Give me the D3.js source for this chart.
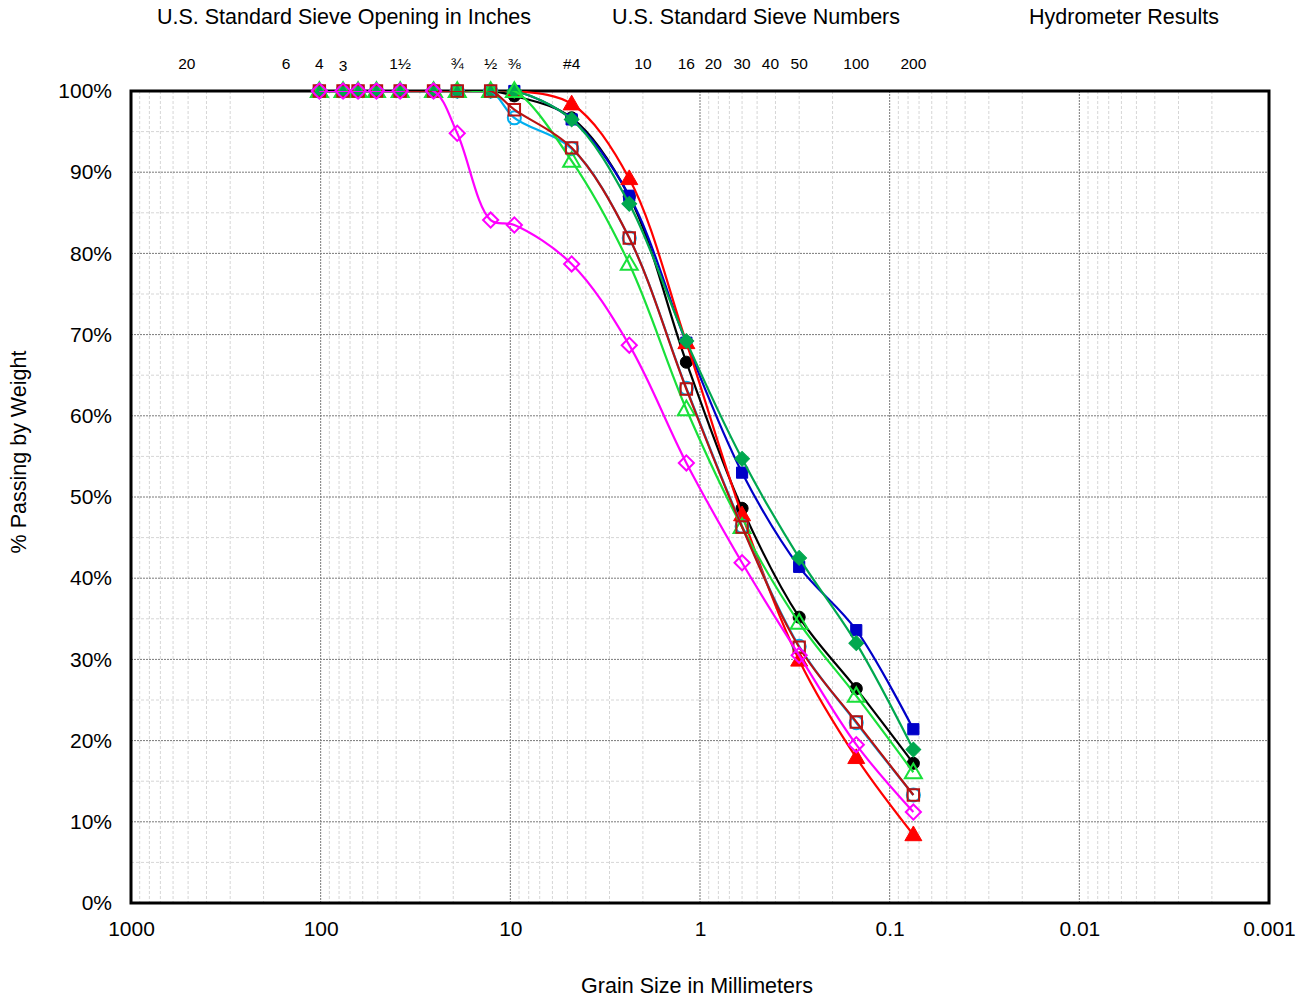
<!DOCTYPE html>
<html>
<head>
<meta charset="utf-8">
<script src="https://cdn.jsdelivr.net/npm/d3@7"></script>
<style>
  body { margin: 0; background: #fff; }
  svg { font-family: "Liberation Sans", Arial, sans-serif; }
</style>
</head>
<body>
<div class="d3Chart"></div>
<script>
//#region data

// sieve openings (mm) for the sample points: 4", 3", 2.5", 2", 1.5", 1", 3/4", 1/2", 3/8", #4, #8, #16, #30, #50, #100, #200
var sieveSizes = [101.6, 76.2, 63.5, 50.8, 38.1, 25.4, 19.05, 12.7, 9.525, 4.75, 2.36, 1.18, 0.6, 0.3, 0.15, 0.075];

var seriesBlackCircle = [100, 100, 100, 100, 100, 100, 100, 100, 99.4, 96.7, 87.0, 66.6, 48.6, 35.2, 26.4, 17.2];
var seriesBlueSquare = [100, 100, 100, 100, 100, 100, 100, 100, 100, 96.5, 87.1, 69.0, 53.0, 41.4, 33.6, 21.4];
var seriesRedTriangle = [100, 100, 100, 100, 100, 100, 100, 100, 100, 98.4, 89.2, 69.0, 47.8, 29.9, 17.9, 8.4];
var seriesGreenDiamond = [100, 100, 100, 100, 100, 100, 100, 100, 100, 96.5, 86.1, 69.2, 54.7, 42.5, 32.0, 18.9];
var seriesCyanCircle = [100, 100, 100, 100, 100, 100, 100, 100, 96.7, 92.9, 81.9, 63.4, 46.4, 31.6, 22.2, 13.3];
var seriesLimeTriangle = [100, 100, 100, 100, 100, 100, 100, 100, 100, 91.4, 78.7, 60.8, 46.3, 34.5, 25.5, 16.1];
var seriesMaroonSquare = [100, 100, 100, 100, 100, 100, 100, 100, 97.7, 93.0, 81.9, 63.3, 46.3, 31.5, 22.3, 13.3];
var seriesMagentaDiamond = [100, 100, 100, 100, 100, 100, 94.8, 84.1, 83.5, 78.7, 68.7, 54.2, 41.9, 30.5, 19.5, 11.2];

// top labels for sieves
var sieveLabels = ["20", "6", "4", "3", "1½", "¾", "½", "⅜", "#4", "10", "16", "20", "30", "40", "50", "100", "200"];
var sieveLabelMm = [508, 152.4, 101.6, 76.2, 38.1, 19.05, 12.7, 9.525, 4.75, 2.0, 1.18, 0.85, 0.6, 0.425, 0.3, 0.15, 0.075];

var headerLabels = ["U.S. Standard Sieve Opening in Inches", "U.S. Standard Sieve Numbers", "Hydrometer Results"];

var xTicks = [1000, 100, 10, 1, 0.1, 0.01, 0.001];
var yTicks = [0, 10, 20, 30, 40, 50, 60, 70, 80, 90, 100];

//#endregion

//#region canvas

var width = 1304;
var height = 998;
var plot = { left: 131, right: 1269, top: 91, bottom: 903 };

var svg = d3
  .select(".d3Chart")
  .append("svg")
  .attr("width", width)
  .attr("height", height);

svg
  .append("clipPath")
  .attr("id", "plotClip")
  .append("rect")
  .attr("x", plot.left)
  .attr("y", plot.top)
  .attr("width", plot.right - plot.left)
  .attr("height", plot.bottom - plot.top);

var x = d3.scaleLog().domain([1000, 0.001]).range([plot.left, plot.right]);
var y = d3.scaleLinear().domain([0, 100]).range([plot.bottom, plot.top]);

//#endregion

//#region grid

// minor vertical lines 2..9 in each decade
var minorX = [];
for (var e = -3; e < 3; e++) {
  for (var m = 2; m <= 9; m++) minorX.push(m * Math.pow(10, e));
}
var minorY = d3.range(5, 100, 10);

var grid = svg.append("g");

grid
  .selectAll(".minor-x")
  .data(minorX)
  .enter()
  .append("line")
  .attr("x1", (d) => x(d))
  .attr("x2", (d) => x(d))
  .attr("y1", plot.top)
  .attr("y2", plot.bottom)
  .attr("stroke", "#d6d6d6")
  .attr("stroke-width", 1)
  .attr("stroke-dasharray", "3,2");

grid
  .selectAll(".minor-y")
  .data(minorY)
  .enter()
  .append("line")
  .attr("x1", plot.left)
  .attr("x2", plot.right)
  .attr("y1", (d) => y(d))
  .attr("y2", (d) => y(d))
  .attr("stroke", "#d6d6d6")
  .attr("stroke-width", 1)
  .attr("stroke-dasharray", "3,2");

grid
  .selectAll(".major-x")
  .data(xTicks)
  .enter()
  .append("line")
  .attr("x1", (d) => x(d))
  .attr("x2", (d) => x(d))
  .attr("y1", plot.top)
  .attr("y2", plot.bottom)
  .attr("stroke", "#7a7a7a")
  .attr("stroke-width", 1)
  .attr("stroke-dasharray", "2,1");

grid
  .selectAll(".major-y")
  .data(yTicks)
  .enter()
  .append("line")
  .attr("x1", plot.left)
  .attr("x2", plot.right)
  .attr("y1", (d) => y(d))
  .attr("y2", (d) => y(d))
  .attr("stroke", "#7a7a7a")
  .attr("stroke-width", 1)
  .attr("stroke-dasharray", "2,1");

// plot frame (markers sit on top of it, lines are clipped inside)
svg
  .append("rect")
  .attr("x", plot.left)
  .attr("y", plot.top)
  .attr("width", plot.right - plot.left)
  .attr("height", plot.bottom - plot.top)
  .attr("fill", "none")
  .attr("stroke", "#000")
  .attr("stroke-width", 3);

//#endregion

//#region axes

var xAxis = d3
  .axisBottom(x)
  .tickValues(xTicks)
  .tickSize(0)
  .tickPadding(18)
  .tickFormat((d) => String(d));

svg
  .append("g")
  .attr("transform", `translate(0,${plot.bottom})`)
  .call(xAxis)
  .call((g) => g.select(".domain").remove())
  .selectAll("text")
  .attr("font-size", 21)
  .attr("font-family", "Liberation Sans, Arial, sans-serif")
  .attr("fill", "#000");

var yAxis = d3
  .axisLeft(y)
  .tickValues(yTicks)
  .tickSize(0)
  .tickPadding(19)
  .tickFormat((d) => d + "%");

svg
  .append("g")
  .attr("transform", `translate(${plot.left},0)`)
  .call(yAxis)
  .call((g) => g.select(".domain").remove())
  .selectAll("text")
  .attr("font-size", 21)
  .attr("font-family", "Liberation Sans, Arial, sans-serif")
  .attr("fill", "#000");

// axis titles
svg
  .append("text")
  .attr("x", 697)
  .attr("y", 993)
  .attr("text-anchor", "middle")
  .attr("font-size", 21.5)
  .text("Grain Size in Millimeters");

svg
  .append("text")
  .attr("transform", "translate(26,452) rotate(-90)")
  .attr("text-anchor", "middle")
  .attr("font-size", 21.5)
  .text("% Passing by Weight");

// headers
var headerX = [344, 756, 1124];
svg
  .selectAll(".header")
  .data(headerLabels)
  .enter()
  .append("text")
  .attr("x", (d, i) => headerX[i])
  .attr("y", 24)
  .attr("text-anchor", "middle")
  .attr("font-size", 21.5)
  .text((d) => d);

// sieve labels above plot
svg
  .selectAll(".sieve")
  .data(sieveLabels)
  .enter()
  .append("text")
  .attr("x", (d, i) => x(sieveLabelMm[i]))
  .attr("y", (d) => (d === "3" ? 71 : 69))
  .attr("text-anchor", "middle")
  .attr("font-size", 15.5)
  .text((d) => d);

//#endregion

//#region series

var seriesList = [
  { values: seriesBlackCircle, color: "#000000", shape: "circle", filled: true },
  { values: seriesBlueSquare, color: "#0000c8", shape: "square", filled: true },
  { values: seriesRedTriangle, color: "#ff0000", shape: "triangle", filled: true },
  { values: seriesGreenDiamond, color: "#00a84f", shape: "diamond", filled: true },
  { values: seriesCyanCircle, color: "#00aeef", shape: "circle", filled: false },
  { values: seriesLimeTriangle, color: "#19e03a", shape: "triangle", filled: false },
  { values: seriesMaroonSquare, color: "#b81212", shape: "square", filled: false },
  { values: seriesMagentaDiamond, color: "#ff00ff", shape: "diamond", filled: false },
];

var line = d3
  .line()
  .x((d) => x(d.size))
  .y((d) => y(d.value))
  .curve(d3.curveCatmullRom.alpha(0.5));

function symbolPath(shape, filled) {
  if (shape === "circle") return d3.symbol(d3.symbolCircle, filled ? 115 : 135)();
  if (shape === "square") return d3.symbol(d3.symbolSquare, filled ? 125 : 130)();
  if (shape === "triangle") return d3.symbol(d3.symbolTriangle, 125)();
  return d3.symbol(d3.symbolSquare, filled ? 110 : 115)();
}

var plotArea = svg.append("g");

seriesList.forEach(function (s) {
  var pts = s.values.map((v, i) => ({ size: sieveSizes[i], value: v }));
  var g = plotArea.append("g");

  g.append("path")
    .datum(pts)
    .attr("d", line)
    .attr("clip-path", "url(#plotClip)")
    .attr("fill", "none")
    .attr("stroke", s.color)
    .attr("stroke-width", 2.2);

  g.selectAll("path.marker")
    .data(pts)
    .enter()
    .append("path")
    .attr("class", "marker")
    .attr("d", symbolPath(s.shape, s.filled))
    .attr("transform", (d) => {
      var t = `translate(${x(d.size)},${y(d.value)})`;
      if (s.shape === "triangle") t += " translate(0,1)";
      if (s.shape === "diamond") t += " rotate(45)";
      return t;
    })
    .attr("fill", s.filled ? s.color : "none")
    .attr("stroke", s.color)
    .attr("stroke-width", s.filled ? 1 : 2);
});

//#endregion
</script>
</body>
</html>
